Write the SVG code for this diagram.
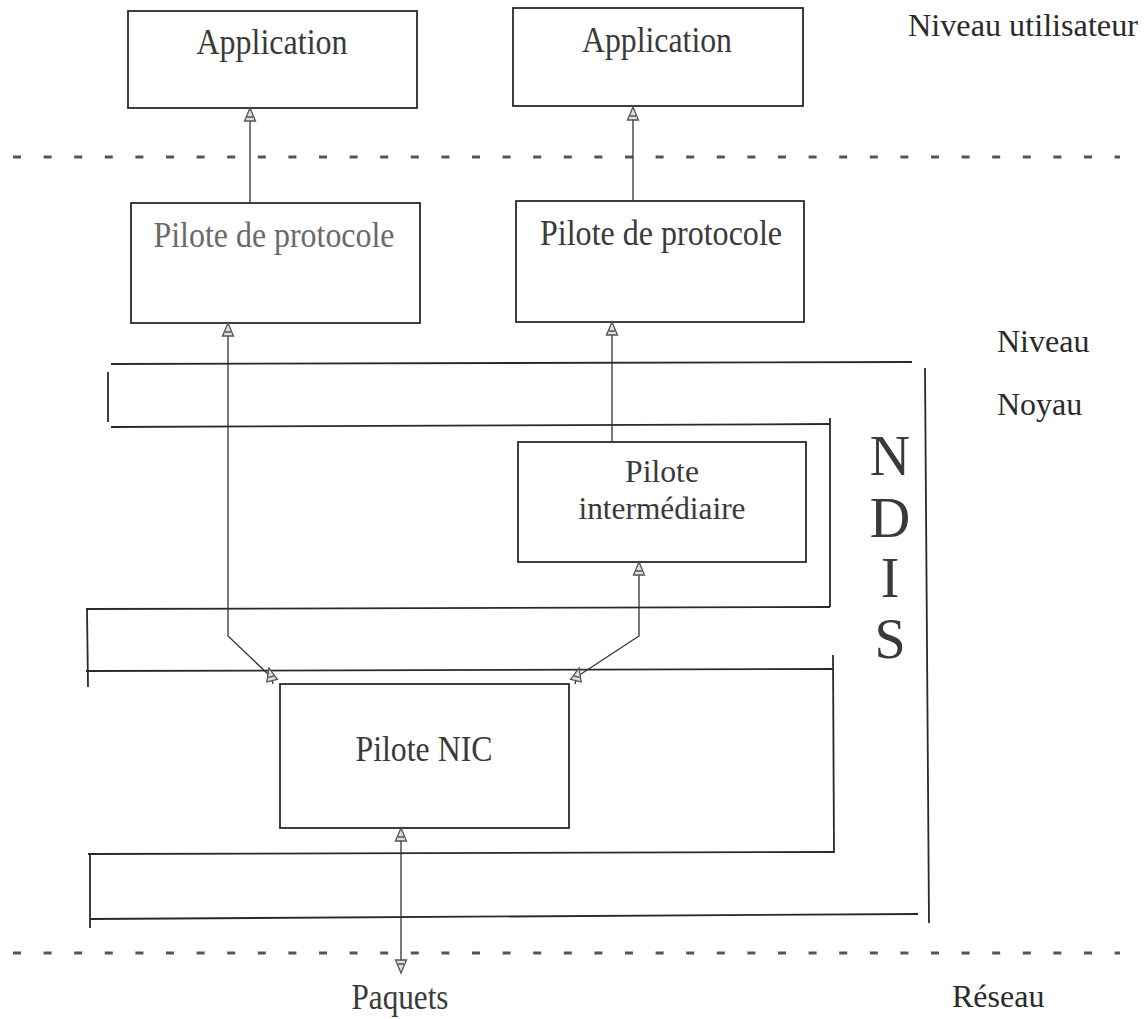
<svg xmlns="http://www.w3.org/2000/svg" width="1144" height="1019" viewBox="0 0 1144 1019">
  <style>
    .box { fill: none; stroke: #2a2a2a; stroke-width: 1.8; }
    .frame { fill: none; stroke: #2a2a2a; stroke-width: 1.8; }
    .wire { fill: none; stroke: #333; stroke-width: 1.3; }
    .level { fill: none; stroke: #555; stroke-width: 3; stroke-dasharray: 8 22.6; }
    .lbl { font-family: "Liberation Serif", "Times New Roman", serif; font-size: 36px; fill: #3a3a3a; text-anchor: middle; }
    .lbl2 { font-family: "Liberation Serif", "Times New Roman", serif; font-size: 32px; fill: #3a3a3a; text-anchor: middle; }
    .side { font-family: "Liberation Serif", "Times New Roman", serif; font-size: 32px; fill: #2a2a2a; }
    .ndis { font-family: "Liberation Serif", "Times New Roman", serif; font-size: 56px; fill: #3a3a3a; text-anchor: middle; }
  </style>
  <defs>
    <marker id="head" viewBox="-1 -7 16 14" markerWidth="16" markerHeight="14" refX="13" refY="0" orient="auto" markerUnits="userSpaceOnUse">
      <path d="M0,-5.5 L13,0 L0,5.5 Z M4,-3 L4,3" fill="#ddd" stroke="#555" stroke-width="1.3"/>
    </marker>
  </defs>

  <rect width="1144" height="1019" fill="#fff"/>

  <!-- user / kernel / network boundaries -->
  <g id="levels">
    <line class="level" x1="13" y1="157" x2="1120" y2="157"/>
    <line class="level" x1="13" y1="953" x2="1120" y2="953"/>
    <text class="side" x="908" y="36" textLength="230" lengthAdjust="spacingAndGlyphs">Niveau utilisateur</text>
    <text class="side" x="997" y="352">Niveau</text>
    <text class="side" x="997" y="415">Noyau</text>
    <text class="side" x="952" y="1007">Réseau</text>
  </g>

  <!-- NDIS wrapper frames -->
  <g id="ndis">
    <path class="frame" d="M111,364 L912,362"/>
    <path class="frame" d="M108,372 L108,422"/>
    <path class="frame" d="M111,427 L830,424"/>
    <path class="frame" d="M830,418 L830,607"/>
    <path class="frame" d="M86,609 L830,607"/>
    <path class="frame" d="M87,609 L88,687"/>
    <path class="frame" d="M86,671 L833,669"/>
    <path class="frame" d="M833,655 L834,853"/>
    <path class="frame" d="M88,854 L834,852"/>
    <path class="frame" d="M90,855 L90,928"/>
    <path class="frame" d="M90,919 L918,914"/>
    <path class="frame" d="M925,368 L929,923"/>
    <text class="ndis" x="890" y="475">N</text>
    <text class="ndis" x="890" y="537">D</text>
    <text class="ndis" x="890" y="597">I</text>
    <text class="ndis" x="890" y="658">S</text>
  </g>

  <g id="app1">
    <rect class="box" x="128" y="11" width="289" height="97"/>
    <text class="lbl" x="272" y="54" textLength="151" lengthAdjust="spacingAndGlyphs">Application</text>
  </g>
  <g id="app2">
    <rect class="box" x="513" y="8" width="290" height="98"/>
    <text class="lbl" x="657" y="52" textLength="150" lengthAdjust="spacingAndGlyphs">Application</text>
  </g>
  <g id="proto1">
    <rect class="box" x="131" y="203" width="289" height="120"/>
    <text class="lbl" x="274" y="247" textLength="241" lengthAdjust="spacingAndGlyphs" style="fill:#6a6a6a">Pilote de protocole</text>
  </g>
  <g id="proto2">
    <rect class="box" x="516" y="201" width="288" height="121"/>
    <text class="lbl" x="661" y="245" textLength="242" lengthAdjust="spacingAndGlyphs">Pilote de protocole</text>
  </g>
  <g id="intermediate">
    <rect class="box" x="518" y="442" width="288" height="120"/>
    <text class="lbl2" x="662" y="482" textLength="74" lengthAdjust="spacingAndGlyphs">Pilote</text>
    <text class="lbl2" x="662" y="519" textLength="167" lengthAdjust="spacingAndGlyphs">intermédiaire</text>
  </g>
  <g id="nic">
    <rect class="box" x="280" y="684" width="289" height="144"/>
    <text class="lbl" x="424" y="761" textLength="137" lengthAdjust="spacingAndGlyphs">Pilote NIC</text>
  </g>
  <g id="packets">
    <text class="lbl" x="400" y="1009" textLength="97" lengthAdjust="spacingAndGlyphs">Paquets</text>
  </g>

  <!-- connectors -->
  <g id="connectors">
    <path class="wire" d="M250,203 L250,108" marker-end="url(#head)"/>
    <path class="wire" d="M633,201 L633,107" marker-end="url(#head)"/>
    <path class="wire" d="M612,442 L612,322" marker-end="url(#head)"/>
    <path class="wire" d="M270,676 L228,636 L228,323" marker-end="url(#head)"/>
    <path class="wire" d="M578,676 L639,636 L639,562" marker-end="url(#head)"/>
    <path class="wire" d="M273,684 L269,668" marker-end="url(#head)"/>
    <path class="wire" d="M575,684 L579,668" marker-end="url(#head)"/>
    <path class="wire" d="M401,900 L401,828" marker-end="url(#head)"/>
    <path class="wire" d="M401,900 L401,973" marker-end="url(#head)"/>
  </g>
</svg>
